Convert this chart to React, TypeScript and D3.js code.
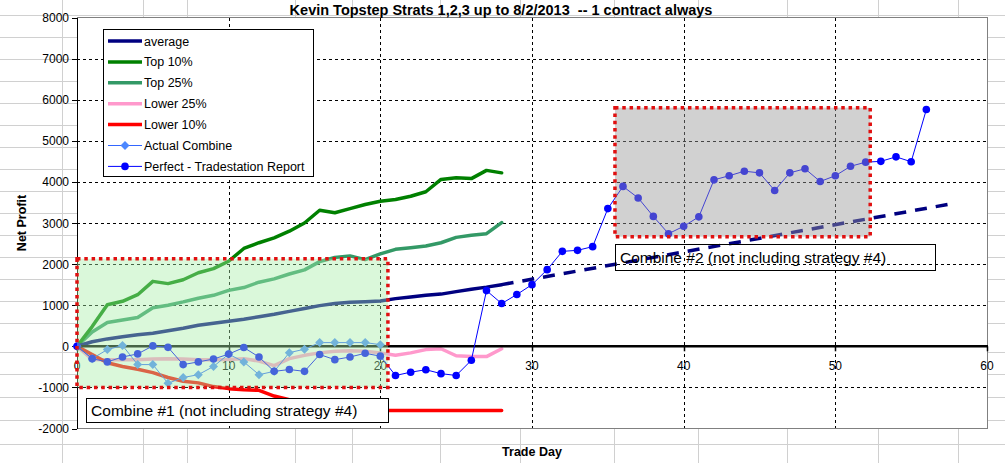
import * as React from 'react'
import * as d3 from 'd3'

// values by trade day (index = day)
const averageValues = [0, 110, 180, 230, 280, 320, 380, 440, 510, 560, 610, 660, 720, 780, 850, 920, 990, 1040, 1070, 1085, 1100, 1160, 1200, 1240, 1270, 1330, 1390, 1440, 1500]
const averageTrend = [[28, 1500], [57.7, 3470]]
const top10Values = [0, 480, 1010, 1095, 1255, 1580, 1525, 1620, 1790, 1890, 2070, 2380, 2520, 2640, 2800, 3000, 3310, 3250, 3350, 3450, 3530, 3570, 3650, 3760, 4060, 4100, 4080, 4280, 4220]
const top25Values = [0, 350, 580, 640, 700, 940, 1000, 1080, 1170, 1240, 1360, 1430, 1560, 1640, 1760, 1860, 2060, 2160, 2200, 2110, 2250, 2360, 2400, 2440, 2520, 2650, 2700, 2740, 3010]
const lower25Values = [0, -320, -330, -330, -325, -310, -300, -310, -330, -330, -320, -300, -360, -470, -300, -220, -160, -120, -110, -120, -160, -220, -160, -80, -60, -230, -250, -250, -60]
const lower10Values = [0, -200, -400, -490, -560, -640, -760, -850, -890, -980, -1030, -1060, -1070, -1210, -1300, -1400, -1480, -1530, -1555, -1565, -1565, -1565, -1565, -1565, -1565, -1565, -1565, -1565, -1565]
const actualCombineValues = [0, -300, -80, 20, -445, -445, -900, -760, -690, -490, -190, -380, -690, -610, -155, -70, 90, 90, 90, 90, 40]
const perfectValues = [0, -300, -380, -260, -185, 10, -25, -445, -380, -310, -190, -30, -260, -610, -565, -610, -200, -325, -260, -170, -240, -710, -630, -570, -665, -710, -340, 1355, 1040, 1260, 1500, 1865, 2310, 2335, 2425, 3350, 3890, 3610, 3160, 2740, 2920, 3150, 4050, 4150, 4260, 4220, 3790, 4220, 4320, 4010, 4150, 4380, 4480, 4500, 4610, 4490, 5760]

const legendNames = ['average', 'Top 10%', 'Top 25%', 'Lower 25%', 'Lower 10%', 'Actual Combine', 'Perfect - Tradestation Report']

// spreadsheet cell grid behind the transparent chart area
const sheetCols = [62, 143, 187, 295, 352, 440, 520, 614, 698, 787, 878, 958]
const sheetRows = [15, 37, 59, 81, 103, 125, 147, 169, 191, 213, 235, 257, 279, 301, 323, 352, 374, 397, 420, 444]

const W = 1005
const H = 463
const font = 'Arial, "Liberation Sans", sans-serif'

const App = () => {
  const x = d3.scaleLinear().domain([0, 60]).range([77, 987])
  const y = d3.scaleLinear().domain([-2000, 8000]).range([428.5, 17.5])

  const line = d3.line<number>().x((d, i) => x(i)).y(d => y(d))
  const trendLine = d3.line<number[]>().x(d => x(d[0])).y(d => y(d[1]))

  const colors = {
    average: '#000080',
    top10: '#008000',
    top25: '#339966',
    lower25: '#FF99CC',
    lower10: '#FF0000',
    actual: '#3366FF',
    actualMarker: '#4D88FF',
    perfect: '#0000FF',
  }

  const diamond = (cx: number, cy: number, r: number) =>
    `M${cx},${cy - r}L${cx + r},${cy}L${cx},${cy + r}L${cx - r},${cy}Z`

  const box1 = { x0: x(0), x1: x(20.5), y0: y(2130), y1: y(-1000) }
  const box2 = { x0: x(35.47), x1: x(52.3), y0: y(5806), y1: y(2668) }

  const legendStyles = [
    { c: colors.average, w: 3.5 },
    { c: colors.top10, w: 3.5 },
    { c: colors.top25, w: 3.5 },
    { c: colors.lower25, w: 3.5 },
    { c: colors.lower10, w: 3.5 },
    { c: colors.actual, w: 1, m: 'diamond' },
    { c: colors.perfect, w: 1, m: 'circle' },
  ]

  return (
    <svg width={W} height={H} style={{ position: 'absolute', left: 0, top: 0, background: '#fff' }} fontFamily={font}>
      {/* sheet grid */}
      <g stroke="#D0D0D0" strokeWidth={1} shapeRendering="crispEdges">
        {sheetCols.map(c => <line key={'c' + c} x1={c + 0.5} x2={c + 0.5} y1={0} y2={H} />)}
        {sheetRows.map(r => <line key={'r' + r} x1={0} x2={W} y1={r + 0.5} y2={r + 0.5} />)}
      </g>

      {/* plot area */}
      <rect x={77.5} y={17.5} width={910} height={411} fill="#fff" stroke="#808080" shapeRendering="crispEdges" />

      {/* grid */}
      <g stroke="#000" strokeWidth={1} strokeDasharray="3,3" shapeRendering="crispEdges">
        {y.ticks(10).filter(t => t !== 0 && t > -2000 && t < 8000).map(t => (
          <line key={'gy' + t} x1={77} x2={987} y1={Math.round(y(t)) + 0.5} y2={Math.round(y(t)) + 0.5} />
        ))}
        {x.ticks(6).filter(t => t > 0 && t < 60).map(t => (
          <line key={'gx' + t} x1={Math.round(x(t)) + 0.5} x2={Math.round(x(t)) + 0.5} y1={18} y2={428} />
        ))}
      </g>

      {/* y axis */}
      <g shapeRendering="crispEdges">
        <line x1={77.5} x2={77.5} y1={17.5} y2={428.5} stroke="#000" />
        {y.ticks(10).map(t => (
          <g key={'yt' + t}>
            <line x1={72} x2={77} y1={Math.round(y(t)) + 0.5} y2={Math.round(y(t)) + 0.5} stroke="#000" />
            <text x={69} y={y(t) + 4.5} textAnchor="end" fontSize={12} fill="#000" shapeRendering="auto">{t}</text>
          </g>
        ))}
      </g>

      {/* series */}
      <g fill="none" strokeLinejoin="round" strokeLinecap="round">
        <path d={trendLine(averageTrend) || ''} stroke={colors.average} strokeWidth={3.5} strokeDasharray="12,9" strokeLinecap="butt" />
        <path d={line(lower25Values) || ''} stroke={colors.lower25} strokeWidth={3.5} />
        <path d={line(lower10Values) || ''} stroke={colors.lower10} strokeWidth={3.5} />
        <path d={line(top25Values) || ''} stroke={colors.top25} strokeWidth={3.5} />
        <path d={line(top10Values) || ''} stroke={colors.top10} strokeWidth={3.5} />
        <path d={line(averageValues) || ''} stroke={colors.average} strokeWidth={3.5} />
      </g>

      {/* x axis at zero */}
      <g>
        <line x1={77} x2={988} y1={y(0)} y2={y(0)} stroke="#000" strokeWidth={2.5} />
        {x.ticks(6).map(t => (
          <g key={'xt' + t}>
            <line x1={Math.round(x(t)) + 0.5} x2={Math.round(x(t)) + 0.5} y1={y(0)} y2={y(0) + 5} stroke="#000" strokeWidth={1.5} />
            <text x={x(t)} y={y(0) + 24} textAnchor="middle" fontSize={12} fill="#000">{t}</text>
          </g>
        ))}
      </g>

      <g>
        <path d={line(actualCombineValues) || ''} fill="none" stroke={colors.actual} strokeWidth={1} />
        {actualCombineValues.map((v, i) => (
          <path key={'ac' + i} d={diamond(x(i), y(v), 4.5)} fill={colors.actualMarker} />
        ))}
        <path d={line(perfectValues) || ''} fill="none" stroke={colors.perfect} strokeWidth={1} />
        {perfectValues.map((v, i) => (
          <circle key={'pf' + i} cx={x(i)} cy={y(v)} r={3.8} fill={colors.perfect} />
        ))}
      </g>

      {/* combine boxes (translucent hatch-like overlay) */}
      <rect x={box1.x0} y={box1.y0} width={box1.x1 - box1.x0} height={box1.y1 - box1.y0} fill="#A8EEA8" fillOpacity={0.42} />
      <rect x={box1.x0} y={box1.y0} width={box1.x1 - box1.x0} height={box1.y1 - box1.y0} fill="none" stroke="#E01010" strokeWidth={3.5} strokeDasharray="3.5,3.8" />
      <rect x={box2.x0} y={box2.y0} width={box2.x1 - box2.x0} height={box2.y1 - box2.y0} fill="#9A9A9A" fillOpacity={0.45} />
      <rect x={box2.x0} y={box2.y0} width={box2.x1 - box2.x0} height={box2.y1 - box2.y0} fill="none" stroke="#E01010" strokeWidth={3.5} strokeDasharray="3.5,3.8" />

      {/* labels */}
      <g shapeRendering="crispEdges">
        <rect x={Math.round(x(0.6)) + 0.5} y={Math.round(y(-1250)) + 0.5} width={Math.round(x(20.5) - x(0.6))} height={Math.round(y(-1830) - y(-1250))} fill="#fff" stroke="#000" />
        <rect x={Math.round(x(35.47)) + 0.5} y={Math.round(y(2500)) + 0.5} width={Math.round(x(56.6) - x(35.47))} height={Math.round(y(1865) - y(2500))} fill="none" stroke="#000" />
      </g>
      <text x={x(0.6) + 5} y={y(-1250) + 18} fontSize={15.5} fill="#000">Combine #1 (not including strategy #4)</text>
      <text x={x(35.47) + 5} y={y(2500) + 19} fontSize={15.5} fill="#000">Combine #2 (not including strategy #4)</text>

      {/* legend */}
      <g>
        <rect x={103.5} y={29.5} width={210} height={147} fill="#fff" stroke="#000" shapeRendering="crispEdges" />
        {legendNames.map((name, i) => {
          const ly = 41 + i * 20.9
          const s = legendStyles[i]
          return (
            <g key={name}>
              <line x1={108} x2={142} y1={ly} y2={ly} stroke={s.c} strokeWidth={s.w} />
              {s.m === 'diamond' && <path d={diamond(125, ly, 4.5)} fill={colors.actualMarker} />}
              {s.m === 'circle' && <circle cx={125} cy={ly} r={3.8} fill={s.c} />}
              <text x={144} y={ly + 4.5} fontSize={12.5} fill="#000">{name}</text>
            </g>
          )
        })}
      </g>

      {/* titles */}
      <text x={501} y={15} textAnchor="middle" fontSize={14.5} fontWeight="bold" fill="#000">
        Kevin Topstep Strats 1,2,3 up to 8/2/2013{'\u00a0\u00a0'}-- 1 contract always
      </text>
      <text transform={`translate(26,223) rotate(-90)`} textAnchor="middle" fontSize={12.5} fontWeight="bold" fill="#000">Net Profit</text>
      <text x={532} y={456} textAnchor="middle" fontSize={12.5} fontWeight="bold" fill="#000">Trade Day</text>
    </svg>
  )
}

export default App
